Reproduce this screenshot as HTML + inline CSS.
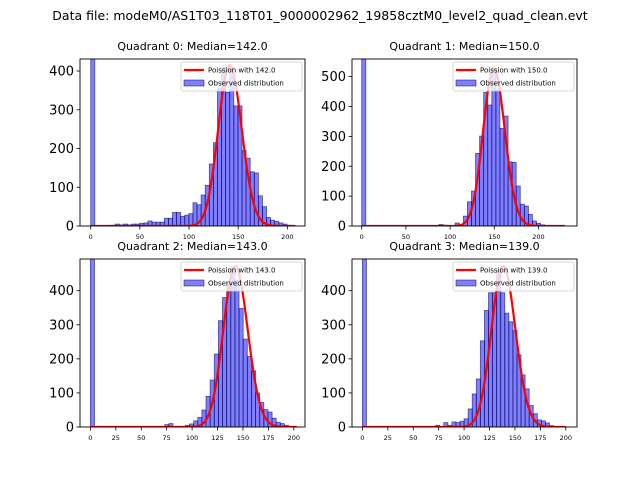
<!DOCTYPE html>
<html><head><meta charset="utf-8"><style>
body{margin:0;background:#fff;}
svg{display:block;font-family:"DejaVu Sans","Liberation Sans",sans-serif;}
</style></head><body>
<svg id="fig" width="640" height="480" viewBox="0 0 640 480">
<text x="320" y="20" text-anchor="middle" font-size="12.5" fill="#000">Data file: modeM0/AS1T03_118T01_9000002962_19858cztM0_level2_quad_clean.evt</text>
</svg>
<script>
// ---- data ----
const quadrantNames = ["Quadrant 0","Quadrant 1","Quadrant 2","Quadrant 3"];
const medians = [142.0, 150.0, 143.0, 139.0];
const binWidths = [4.16, 4.6, 4.06, 4.0];
const q0Counts = [1000,0,0,0,0,2,5,3,5,3,5,5,7,8,13,10,10,10,20,20,35,35,25,28,32,60,55,80,105,160,215,355,410,345,410,310,310,195,175,140,137,78,50,22,15,12,8,5,2,1];
const q1Counts = [1000,0,0,0,0,0,0,0,0,0,0,0,0,0,0,0,0,0,0,5,3,0,0,10,5,33,81,117,243,301,447,405,511,455,327,368,215,213,134,73,67,39,17,9,4,1,1,0,0,0];
const q2Counts = [1000,0,0,0,0,0,0,0,0,0,0,0,0,0,0,0,0,0,7,10,0,0,0,5,9,18,28,50,90,138,214,312,380,420,470,431,348,258,207,165,100,72,51,44,26,14,10,5,0,0];
const q3Counts = [1000,0,0,0,0,0,0,0,0,0,0,0,0,0,0,0,0,0,5,0,13,5,15,13,17,24,53,97,141,253,342,394,394,460,394,334,309,283,212,153,112,63,39,21,18,12,4,0,0,0];
const poissonScales = [12400, 16200, 14150, 13950];
const xTicks0 = [0,50,100,150,200];
const xTicks1 = [0,50,100,150,200];
const xTicks2 = [0,25,50,75,100,125,150,175,200];
const xTicks3 = [0,25,50,75,100,125,150,175,200];
const yTicks0 = [0,100,200,300,400];
const yTicks1 = [0,100,200,300,400,500];
const yTicks2 = [0,100,200,300,400];
const yTicks3 = [0,100,200,300,400];
const xLims = [[-10.9,218],[-11,243.6],[-10.2,211],[-10.2,211]];
const yLims = [[0,431],[0,559],[0,493],[0,493]];
const poissonXMax = [208, 230, 203, 200];

// ---- layout ----
const boxes = [{l:80,r:305,t:59,b:226},{l:352,r:577,t:59,b:226},{l:80,r:305,t:259,b:427},{l:352,r:577,t:259,b:427}];
const countsAll = [q0Counts,q1Counts,q2Counts,q3Counts];
const xTicksAll = [xTicks0,xTicks1,xTicks2,xTicks3];
const yTicksAll = [yTicks0,yTicks1,yTicks2,yTicks3];
const NS="http://www.w3.org/2000/svg";
const svg=document.getElementById('fig');
function mk(tag,attrs,parent){const e=document.createElementNS(NS,tag);for(const k in attrs)e.setAttribute(k,attrs[k]);(parent||svg).appendChild(e);return e;}
function lgamma(n){let s=0;for(let i=2;i<=n;i++)s+=Math.log(i);return s;}

for(let q=0;q<4;q++){
  const B=boxes[q];
  const sx=v=>B.l+(v-xLims[q][0])/(xLims[q][1]-xLims[q][0])*(B.r-B.l);
  const sy=v=>B.b-(v-yLims[q][0])/(yLims[q][1]-yLims[q][0])*(B.b-B.t);
  const g=mk('g',{});
  
  
  const cp=mk('clipPath',{id:'cp'+q},g);
  mk('rect',{x:B.l,y:B.t,width:B.r-B.l,height:B.b-B.t},cp);
  const t=mk('text',{x:(B.l+B.r)/2,y:B.t-9,'text-anchor':'middle','font-size':'11',fill:'#000'},g);
  t.textContent=quadrantNames[q]+': Median='+medians[q].toFixed(1);
  
  
  const bars=mk('g',{'clip-path':'url(#cp'+q+')'},g);
  const counts=countsAll[q];const w=binWidths[q];
  counts.forEach((c,i)=>{
    if(c<=0)return;
    const x0=sx(i*w),x1=sx((i+1)*w);
    const r=mk('rect',{x:x0,y:sy(c),width:x1-x0,height:sy(0)-sy(c),fill:'rgba(0,0,255,0.5)',stroke:'rgba(0,0,80,0.6)','stroke-width':'0.8'},bars);
    
    
  });
  let d='';const lam=medians[q];
  for(let k=0;k<=poissonXMax[q];k++){
    const p=Math.exp(k*Math.log(lam)-lam-lgamma(k))*poissonScales[q];
    d+=(k?'L':'M')+sx(k).toFixed(2)+','+sy(p).toFixed(2);
  }
  const pl=mk('path',{d:d,fill:'none',stroke:'#ff0000','stroke-width':'2.2'},bars);
  
  
  const fr=mk('rect',{x:B.l,y:B.t,width:B.r-B.l,height:B.b-B.t,fill:'none',stroke:'#000','stroke-width':'0.9'},g);
  
  
  xTicksAll[q].forEach(v=>{
    mk('line',{x1:sx(v),x2:sx(v),y1:B.b,y2:B.b+3.5,stroke:'#000','stroke-width':'0.8'},g);
    const tl=mk('text',{x:sx(v),y:B.b+13,'text-anchor':'middle','font-size':'6.5',fill:'#000'},g);
    tl.textContent=v;
    
    
  });
  yTicksAll[q].forEach(v=>{
    mk('line',{x1:B.l-3.5,x2:B.l,y1:sy(v),y2:sy(v),stroke:'#000','stroke-width':'0.8'},g);
    const tl=mk('text',{x:B.l-6,y:sy(v)+4.5,'text-anchor':'end','font-size':'13',fill:'#000'},g);
    tl.textContent=v;
    
    
  });
  const lg=mk('g',{},g);
  
  
  const lx=B.r-124,ly=B.t+3;
  mk('rect',{x:lx,y:ly,width:121,height:29,rx:2,fill:'rgba(255,255,255,0.8)',stroke:'#ccc','stroke-width':'0.8'},lg);
  mk('line',{x1:lx+3,x2:lx+23,y1:ly+8,y2:ly+8,stroke:'#ff0000','stroke-width':'2.2'},lg);
  const t1=mk('text',{x:lx+27,y:ly+10.5,'font-size':'7',fill:'#000'},lg);
  t1.textContent='Poission with '+medians[q].toFixed(1);
  
  
  mk('rect',{x:lx+3,y:ly+18,width:20,height:6,fill:'rgba(0,0,255,0.5)',stroke:'rgba(0,0,80,0.6)','stroke-width':'0.8'},lg);
  const t2=mk('text',{x:lx+27,y:ly+23.5,'font-size':'7',fill:'#000'},lg);
  t2.textContent='Observed distribution';
  
  
}
</script>
</body></html>
